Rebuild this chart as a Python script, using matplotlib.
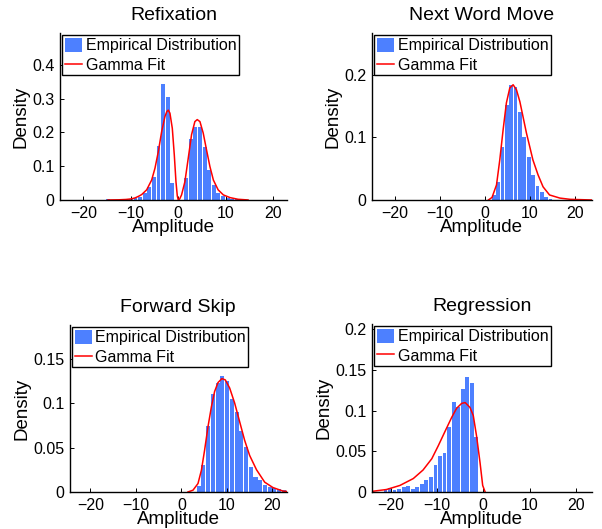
"""Saccade-amplitude histograms with gamma fits, one panel per saccade type.

Bars are the empirical density (binned amplitude), the red line is the fitted
gamma pdf read off the figure. Styled after the MATLAB original: no box,
inward ticks, legend parked in the top-left corner of each axes.
"""

import matplotlib
matplotlib.use("Agg")  # headless
import matplotlib.pyplot as plt  # noqa: E402
from matplotlib.lines import Line2D  # noqa: E402
from matplotlib.patches import Patch  # noqa: E402

plt.rcParams["font.family"] = ["Liberation Sans", "DejaVu Sans"]

BAR_BLUE = "#4d80ff"
FIT_RED = "#ff0000"

# --- Refixation: bimodal (backward / forward refixations) ---
refix_centers = [-14.83, -13.86, -12.89, -11.92, -10.95, -9.98, -9.01, -8.04,
                 -7.07, -6.10, -5.13, -4.16, -3.19, -2.22, -1.25, 1.66, 2.63,
                 3.60, 4.57, 5.54, 6.51, 7.48, 8.45, 9.42, 10.39, 11.36, 12.33]
refix_density = [0.002, 0.001, 0.001, 0.001, 0.002, 0.003, 0.005, 0.008,
                 0.020, 0.037, 0.069, 0.160, 0.344, 0.304, 0.050, 0.064, 0.181,
                 0.217, 0.215, 0.158, 0.089, 0.044, 0.022, 0.011, 0.006, 0.004,
                 0.003]
refix_fit_x = [-14.8, -12.5, -11.0, -10.0, -9.1, -8.2, -7.7, -6.65, -5.6, -4.9,
               -4.2, -3.5, -2.8, -2.4, -2.1, -1.75, -1.25, -0.83, -0.48, -0.2,
               0.0, 0.3, 0.7, 1.4, 2.1, 2.8, 3.5, 4.0, 4.57, 5.26, 5.96, 6.67,
               7.4, 8.4, 9.5, 10.9, 12.6, 14.7]
refix_fit_y = [0.0, 0.0005, 0.0015, 0.003, 0.006, 0.012, 0.016, 0.030, 0.059,
               0.094, 0.143, 0.202, 0.247, 0.262, 0.266, 0.257, 0.212, 0.133,
               0.054, 0.012, 0.0, 0.003, 0.015, 0.054, 0.123, 0.193, 0.232,
               0.238, 0.232, 0.198, 0.148, 0.099, 0.059, 0.030, 0.015, 0.007,
               0.002, 0.0]

# --- Next Word Move ---
nwm_centers = [2.00, 2.97, 3.94, 4.91, 5.88, 6.85, 7.82, 8.79, 9.76, 10.73,
               11.70, 12.67, 13.64, 14.61]
nwm_density = [0.008, 0.029, 0.085, 0.152, 0.184, 0.180, 0.140, 0.100, 0.068,
               0.040, 0.022, 0.012, 0.005, 0.002]
nwm_fit_x = [0.8, 1.6, 2.6, 3.33, 4.07, 4.8, 5.56, 6.3, 7.04, 7.8, 8.5, 9.26,
             10.0, 10.7, 11.85, 12.96, 14.4, 16.7, 19.0, 23.7]
nwm_fit_y = [0.0, 0.004, 0.024, 0.064, 0.112, 0.155, 0.179, 0.184, 0.176,
             0.157, 0.133, 0.107, 0.085, 0.064, 0.040, 0.021, 0.008, 0.003,
             0.001, 0.0]

# --- Forward Skip ---
skip_centers = [3.80, 4.84, 5.88, 6.92, 7.96, 9.00, 10.04, 11.08, 12.12, 13.16,
                14.20, 15.24, 16.28, 17.32, 18.36, 19.40, 20.44, 21.48, 22.52]
skip_density = [0.0065, 0.030, 0.074, 0.110, 0.123, 0.130, 0.125, 0.104, 0.090,
                0.069, 0.051, 0.028, 0.017, 0.014, 0.008, 0.006, 0.005, 0.003,
                0.002]
skip_fit_x = [1.45, 2.55, 3.65, 4.4, 5.1, 5.85, 6.6, 7.3, 8.04, 8.9, 9.65, 10.6,
              11.7, 12.8, 13.9, 15.0, 16.5, 18.3, 20.1, 22.3, 23.5]
skip_fit_y = [0.0, 0.002, 0.0095, 0.0245, 0.047, 0.0735, 0.096, 0.113, 0.123,
              0.1275, 0.126, 0.117, 0.100, 0.079, 0.058, 0.041, 0.025, 0.011,
              0.005, 0.001, 0.0005]

# --- Regression ---
regr_centers = [-21.10, -20.12, -19.14, -18.16, -17.18, -16.20, -15.22, -14.24,
                -13.26, -12.28, -11.30, -10.32, -9.34, -8.36, -7.38, -6.40,
                -5.42, -4.44, -3.46, -2.48, -1.50]
regr_density = [0.002, 0.0054, 0.003, 0.004, 0.006, 0.007, 0.004, 0.006, 0.0095,
                0.0144, 0.0185, 0.033, 0.044, 0.048, 0.080, 0.111, 0.105, 0.127,
                0.142, 0.134, 0.068]
regr_fit_x = [-25.0, -22.3, -20.9, -18.0, -15.1, -13.0, -11.1, -9.7, -8.3, -6.8,
              -5.75, -4.67, -3.9, -2.87, -2.16, -1.43, -0.7, -0.13, 0.4]
regr_fit_y = [0.0, 0.002, 0.003, 0.008, 0.0165, 0.027, 0.041, 0.057, 0.074,
              0.092, 0.103, 0.109, 0.110, 0.104, 0.094, 0.068, 0.036, 0.008, 0.0]

XTICKS = [-20, -10, 0, 10, 20]


def fmt(v):
    # MATLAB-style labels: 0.1 not 0.10, real minus sign
    return f"{v:g}".replace("-", "\u2212")


def draw(ax, title, centers, density, bin_w, fit_x, fit_y, xlim, ylim, yticks):
    ax.bar(centers, density, width=0.85 * bin_w, color=BAR_BLUE, edgecolor="none")
    ax.plot(fit_x, fit_y, color=FIT_RED, lw=1.1)
    ax.set_xlim(*xlim)
    ax.set_ylim(0, ylim)
    ax.set_xticks(XTICKS, [fmt(t) for t in XTICKS])
    ax.set_yticks(yticks, [fmt(t) for t in yticks])
    ax.tick_params(direction="in", length=3, width=0.7, labelsize=11.5, pad=4)
    for side in ("top", "right"):
        ax.spines[side].set_visible(False)
    for side in ("left", "bottom"):
        ax.spines[side].set_linewidth(1.0)
    ax.set_title(title, fontsize=14, pad=9)
    ax.set_xlabel("Amplitude", fontsize=13.5, labelpad=-1)
    ax.set_ylabel("Density", fontsize=13.5, labelpad=2)

    handles = [Patch(facecolor=BAR_BLUE, edgecolor="none"),
               Line2D([], [], color=FIT_RED, lw=1.1)]
    leg = ax.legend(handles, ["Empirical Distribution", "Gamma Fit"],
                    loc="upper left", fontsize=11.5, frameon=True, fancybox=False,
                    edgecolor="black", framealpha=1, borderpad=0.15,
                    borderaxespad=0.15, handlelength=1.1, handleheight=1.0,
                    handletextpad=0.2, labelspacing=0.25)
    leg.get_frame().set_linewidth(1.0)


fig = plt.figure(figsize=(6.02, 5.29), dpi=100)

ax1 = fig.add_axes([0.0997, 0.622, 0.377, 0.316])
draw(ax1, "Refixation", refix_centers, refix_density, 0.97,
     refix_fit_x, refix_fit_y, (-24.9, 22.9), 0.495, [0, 0.1, 0.2, 0.3, 0.4])

ax2 = fig.add_axes([0.618, 0.622, 0.365, 0.316])
draw(ax2, "Next Word Move", nwm_centers, nwm_density, 0.97,
     nwm_fit_x, nwm_fit_y, (-25.1, 23.8), 0.267, [0, 0.1, 0.2])

ax3 = fig.add_axes([0.116, 0.070, 0.360, 0.316])
draw(ax3, "Forward Skip", skip_centers, skip_density, 1.04,
     skip_fit_x, skip_fit_y, (-24.5, 23.1), 0.188, [0, 0.05, 0.1, 0.15])

ax4 = fig.add_axes([0.618, 0.070, 0.365, 0.318])
draw(ax4, "Regression", regr_centers, regr_density, 0.98,
     regr_fit_x, regr_fit_y, (-24.0, 23.4), 0.207, [0, 0.05, 0.1, 0.15, 0.2])

fig.savefig("out.png", dpi=100)
